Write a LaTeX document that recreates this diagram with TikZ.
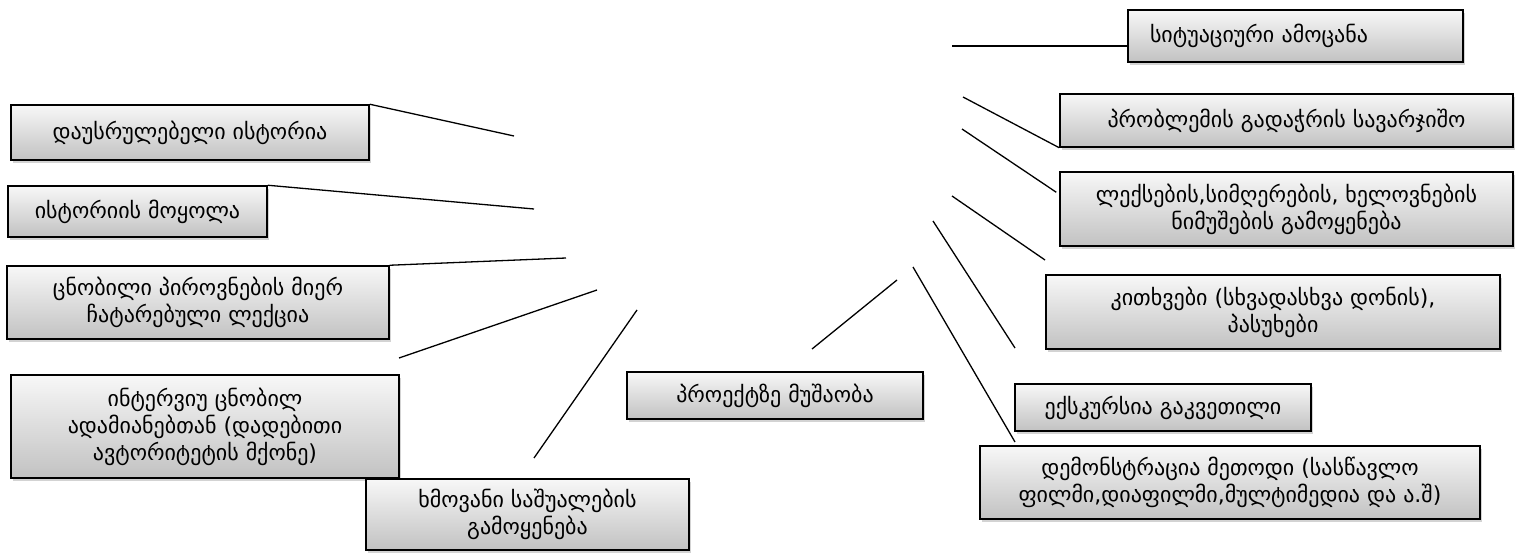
\documentclass[tikz,border=0pt]{standalone}
\usepackage{fontspec}
\newfontfamily\geofont{DejaVu Sans}
\usetikzlibrary{shadows,calc}

\tikzset{
  box/.style={draw, line width=1.5pt, top color=gray!6, bottom color=gray!48,
    drop shadow={shadow xshift=2pt, shadow yshift=-3pt, opacity=0.35},
    inner sep=0pt, align=center, font=\geofont\fontsize{22}{27}\selectfont},
  link/.style={line width=1.3pt}
}

\begin{document}
\begin{tikzpicture}[x=1pt,y=-1pt]
\useasboundingbox (0,0) rectangle (1515,553);
% left column
\node[box, minimum width=358, minimum height=55] (story) at (190,132.5) {დაუსრულებელი ისტორია};
\node[box, minimum width=259, minimum height=51] (retell) at (137.5,211.5) {ისტორიის მოყოლა};
\node[box, minimum width=382, minimum height=73] (lecture) at (198,302.5) {ცნობილი პიროვნების მიერ\\ჩატარებული ლექცია};
\node[box, minimum width=388, minimum height=103] (interview) at (205,426.5) {ინტერვიუ ცნობილ\\ადამიანებთან (დადებითი\\ავტორიტეტის მქონე)};
\node[box, minimum width=323, minimum height=71] (audio) at (527.5,514.5) {ხმოვანი საშუალების\\გამოყენება};
\node[box, minimum width=296, minimum height=47] (project) at (775,395.5) {პროექტზე მუშაობა};
% right column
\node[box, align=left, text width=291, inner xsep=22, minimum height=52] (task) at (1295.5,36) {სიტუაციური ამოცანა};
\node[box, minimum width=453, minimum height=53] (problem) at (1286.5,120.5) {პრობლემის გადაჭრის სავარჯიშო};
\node[box, minimum width=453, minimum height=74] (poems) at (1286.5,209) {ლექსების,სიმღერების, ხელოვნების\\ნიმუშების გამოყენება};
\node[box, minimum width=454, minimum height=74] (questions) at (1273,312) {კითხვები (სხვადასხვა დონის),\\პასუხები};
\node[box, minimum width=296, minimum height=47] (excursion) at (1163,407.5) {ექსკურსია გაკვეთილი};
\node[box, minimum width=500, minimum height=73] (demo) at (1230,482.5) {დემონსტრაცია მეთოდი (სასწავლო\\ფილმი,დიაფილმი,მულტიმედია და ა.შ)};

% loose ends
\coordinate (e1) at (514,136);
\coordinate (e2) at (534,209);
\coordinate (e3) at (566,258);
\coordinate (e4a) at (399,358);
\coordinate (e4b) at (597,290);
\coordinate (e5a) at (534,458);
\coordinate (e5b) at (637,310);
\coordinate (e6a) at (812,349);
\coordinate (e6b) at (897,280);
\coordinate (e7) at (952,46);
\coordinate (e8) at (963,97);
\coordinate (e9) at (962,129);
\coordinate (e10a) at (952,196);
\coordinate (e10b) at (1045,260);
\coordinate (e11a) at (933,221);
\coordinate (e11b) at (1015,348);
\coordinate (e12a) at (913,267);
\coordinate (e12b) at (1015,442);

\draw[link] (story.north east) -- (e1);
\draw[link] (retell.north east) -- (e2);
\draw[link] (lecture.north east) -- (e3);
\draw[link] (e4a) -- (e4b);
\draw[link] (e5a) -- (e5b);
\draw[link] (e6a) -- (e6b);
\draw[link] (e7) -- ($(task.west)+(0,10)$);
\draw[link] (e8) -- (problem.south west);
\draw[link] (e9) -- ($(poems.north west)+(-3,21)$);
\draw[link] (e10a) -- (e10b);
\draw[link] (e11a) -- (e11b);
\draw[link] (e12a) -- (e12b);
\end{tikzpicture}
\end{document}
